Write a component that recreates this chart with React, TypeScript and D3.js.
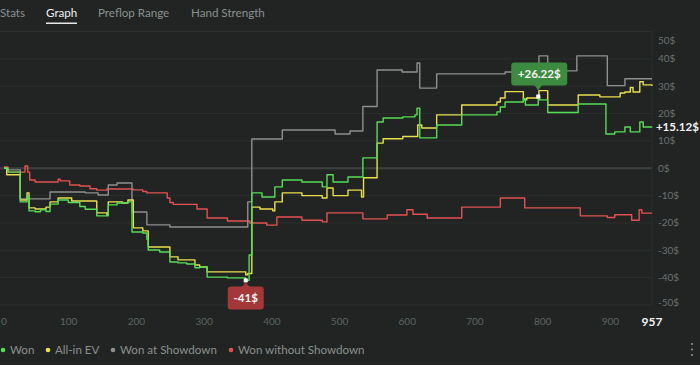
import React from "react";
import * as d3 from "d3";

const W = 700;
const H = 365;

const tabs = ["Stats", "Graph", "Preflop Range", "Hand Strength"];
const activeTab = "Graph";
const yTicks = [50, 40, 30, 20, 10, 0, -10, -20, -30, -40, -50];
const xTicks = [0, 100, 200, 300, 400, 500, 600, 700, 800, 900];
const lastHand = 957;

const seriesNames = ["Won", "All-in EV", "Won at Showdown", "Won without Showdown"];
const seriesColors = ["#55dd55", "#e8e04e", "#8e8f8e", "#e25252"];

const wonHands = [0, 6, 24, 34, 37, 46, 54, 62, 68, 80, 95, 112, 120, 137, 154, 167, 183, 189, 205, 211, 213, 230, 245, 257, 270, 282, 289, 300, 330, 357, 362, 366, 381, 397, 400, 411, 440, 470, 477, 486, 508, 530, 551, 560, 589, 607, 610, 614, 639, 676, 728, 733, 740, 767, 770, 789, 791, 803, 848, 889, 902, 917, 925, 939, 944, 957];
const wonValues = [0, -1.4, -12.3, -10.1, -15.6, -15.9, -15.2, -15.8, -13.1, -11.6, -12.5, -14.0, -15.0, -17.4, -13.4, -12.7, -12.3, -23.3, -23.7, -26.0, -29.9, -30.6, -34.3, -34.6, -35.0, -36.4, -36.1, -39.8, -40.1, -41.0, -31.7, -9.0, -10.5, -10.5, -6.8, -4.3, -5.0, -6.8, -2.4, -5.0, -3.2, 3.8, 16.9, 18.4, 18.8, 19.5, 22.0, 11.1, 15.8, 19.5, 20.6, 22.4, 24.2, 25.4, 23.1, 26.22, 25.0, 20.4, 23.5, 12.5, 13.3, 15.1, 13.3, 16.9, 15.1, 15.12];

const evHands = [0, 4, 24, 34, 37, 46, 62, 68, 80, 100, 137, 152, 154, 175, 183, 191, 205, 213, 245, 257, 282, 289, 300, 357, 360, 366, 378, 397, 400, 411, 440, 470, 477, 486, 508, 528, 531, 551, 560, 589, 611, 617, 639, 676, 728, 733, 740, 767, 772, 790, 803, 848, 880, 910, 917, 925, 929, 939, 944, 957];
const evValues = [0, -2.4, -11.6, -9.0, -14.5, -14.9, -14.2, -12.3, -10.9, -12.0, -16.3, -17.1, -12.3, -12.7, -11.6, -21.8, -22.9, -28.8, -32.4, -33.5, -35.4, -36.1, -37.9, -39.0, -38.5, -14.2, -14.9, -15.6, -12.3, -9.0, -10.0, -10.9, -7.2, -10.0, -8.0, -10.5, -3.5, 9.2, 10.8, 11.6, 15.8, 14.7, 19.5, 23.1, 24.2, 25.7, 28.0, 25.0, 25.7, 28.4, 23.1, 26.8, 26.1, 27.5, 27.9, 29.5, 27.9, 31.6, 30.5, 30.1];

const sdHands = [0, 4, 24, 68, 120, 139, 154, 167, 189, 211, 245, 360, 366, 411, 489, 511, 530, 551, 588, 610, 614, 639, 740, 790, 803, 846, 891, 917, 957];
const sdValues = [0, -0.6, -11.2, -8.7, -9.0, -9.8, -6.1, -5.4, -16.0, -20.7, -21.5, -12.3, 10.7, 14.0, 12.5, 13.6, 22.6, 35.9, 35.2, 38.5, 29.3, 34.5, 35.2, 41.1, 35.6, 41.1, 30.2, 32.7, 32.7];

const nsdHands = [0, 6, 31, 35, 38, 46, 68, 80, 83, 97, 112, 127, 137, 152, 191, 205, 211, 241, 245, 250, 285, 300, 330, 363, 388, 403, 440, 470, 477, 530, 566, 595, 604, 625, 676, 733, 769, 851, 891, 902, 927, 938, 942, 957];
const nsdValues = [0.5, -1.4, 0.8, -1.4, -4.3, -5.0, -5.0, -4.0, -4.6, -6.1, -6.5, -7.5, -8.0, -7.6, -7.9, -8.5, -9.0, -10.9, -12.5, -13.2, -14.9, -18.2, -19.3, -20.0, -20.8, -17.8, -19.0, -19.6, -16.3, -18.5, -17.1, -15.2, -16.8, -18.2, -14.2, -10.9, -14.5, -17.4, -18.0, -17.0, -19.0, -15.2, -16.4, -16.4];

const minLabel = "-41$";
const maxLabel = "+26.22$";
const finalLabel = "+15.12$";

const FONT = "Lato, 'Open Sans', sans-serif";

export default function App() {
  const x = d3.scaleLinear().domain([0, lastHand]).range([4, 652]);
  const y = d3.scaleLinear().domain([-50, 50]).range([305, 31.5]);

  const series = [
    { hands: nsdHands, values: nsdValues, color: seriesColors[3] },
    { hands: sdHands, values: sdValues, color: seriesColors[2] },
    { hands: evHands, values: evValues, color: seriesColors[1] },
    { hands: wonHands, values: wonValues, color: seriesColors[0] },
  ];

  const line = d3
    .line<[number, number]>()
    .x((d) => x(d[0]))
    .y((d) => y(d[1]))
    .curve(d3.curveStepAfter);

  const minIdx = d3.minIndex(wonValues);
  const maxIdx = d3.maxIndex(wonValues);
  const minX = x(wonHands[minIdx]);
  const minY = y(wonValues[minIdx]);
  const maxX = x(wonHands[maxIdx]);
  const maxY = y(wonValues[maxIdx]);
  const finalY = y(wonValues[wonValues.length - 1]);

  const tabX = [0, 46, 98, 191];
  const legendX = [3, 48, 113, 231];

  return (
    <div style={{ position: "fixed", left: 0, top: 0, width: W, height: H, background: "#212423" }}>
      <svg width={W} height={H} style={{ display: "block", fontFamily: FONT }}>
        <rect width={W} height={H} fill="#212423" />
        {tabs.map((t, i) => (
          <text
            key={t}
            x={tabX[i]}
            y={17}
            fontSize={11.6}
            fill={t === activeTab ? "#f0f0f0" : "#8b908e"}
          >
            {t}
          </text>
        ))}
        <rect x={46} y={22.5} width={31} height={1.5} fill="#e8e8e8" />

        {yTicks.map((t) => (
          <line
            key={"g" + t}
            x1={0}
            x2={652}
            y1={y(t)}
            y2={y(t)}
            stroke={t === 0 ? "#3c4140" : "#2b2f2e"}
            strokeWidth={t === 0 ? 2 : 1}
          />
        ))}
        <line x1={652} x2={652} y1={y(50)} y2={y(-50)} stroke="#2b2f2e" strokeWidth={1} />

        {yTicks.map((t) => (
          <text
            key={"yl" + t}
            x={658}
            y={Math.min(Math.max(y(t), 40), 302.5)}
            dy="0.35em"
            fontSize={10}
            fill="#6b716f"
          >
            {t + "$"}
          </text>
        ))}

        {xTicks.map((t) => (
          <text
            key={"xl" + t}
            x={Math.max(x(t) - 3, 4)}
            y={325}
            textAnchor="middle"
            fontSize={10}
            fill="#5e6462"
          >
            {t}
          </text>
        ))}
        <text x={x(lastHand)} y={326} textAnchor="middle" fontSize={12} fontWeight="bold" fill="#f2f2f2">
          {lastHand}
        </text>

        {series.map((s, i) => (
          <path
            key={i}
            d={line(s.hands.map((h, j) => [h, s.values[j]] as [number, number])) || ""}
            fill="none"
            stroke={s.color}
            strokeWidth={1.4}
            strokeLinejoin="round"
          />
        ))}

        {/* max annotation */}
        <rect x={maxX - 27} y={maxY - 34} width={56} height={23} rx={3} fill="#3d8b40" />
        <path d={`M${maxX - 4},${maxY - 11.5} L${maxX},${maxY - 6} L${maxX + 4},${maxY - 11.5} Z`} fill="#3d8b40" />
        <text x={maxX + 1} y={maxY - 22.5} dy="0.35em" textAnchor="middle" fontSize={11.6} fontWeight="bold" fill="#f4f4f4">
          {maxLabel}
        </text>
        <rect x={maxX - 2} y={maxY - 2} width={4} height={4} fill="#ffffff" />

        {/* min annotation */}
        <rect x={minX - 18} y={minY + 6} width={36} height={23} rx={3} fill="#a43838" />
        <path d={`M${minX - 4},${minY + 6.5} L${minX},${minY + 2} L${minX + 4},${minY + 6.5} Z`} fill="#a43838" />
        <text x={minX} y={minY + 18} dy="0.35em" textAnchor="middle" fontSize={11.6} fontWeight="bold" fill="#f4f4f4">
          {minLabel}
        </text>
        <rect x={minX - 2} y={minY - 2} width={4} height={4} fill="#ffffff" />

        <text x={699} y={finalY} dy="0.35em" textAnchor="end" fontSize={11.6} fontWeight="bold" fill="#f2f2f2">
          {finalLabel}
        </text>

        {seriesNames.map((n, i) => (
          <g key={n}>
            <circle cx={legendX[i]} cy={350} r={2.3} fill={seriesColors[i]} />
            <text x={legendX[i] + 7} y={350} dy="0.35em" fontSize={11.6} fill="#8b908e">
              {n}
            </text>
          </g>
        ))}

        {[0, 1, 2].map((i) => (
          <circle key={"m" + i} cx={692} cy={344 + i * 5.5} r={1.1} fill="#8b908e" />
        ))}
      </svg>
    </div>
  );
}
